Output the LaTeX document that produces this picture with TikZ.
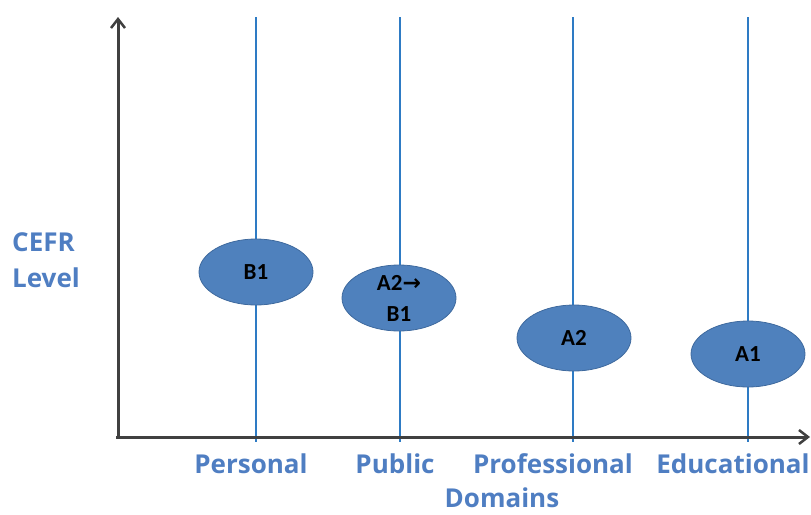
\documentclass[tikz,border=0pt]{standalone}
\usepackage{fontspec}
\setmainfont{Open Sans}
\newfontfamily\carl{Carlito}
\newfontfamily\djv{DejaVu Sans}
\usetikzlibrary{shapes.geometric,arrows.meta}
\definecolor{lblue}{HTML}{4F7EC2}
\definecolor{efill}{HTML}{4F81BD}
\definecolor{eborder}{HTML}{3F6A9E}
\definecolor{vline}{HTML}{2E7BC4}
\definecolor{axis}{HTML}{404040}
\tikzset{
  lvl/.style={ellipse,fill=efill,draw=eborder,line width=0.8pt,minimum width=114pt,minimum height=66pt,inner sep=0pt,font=\carl\fontsize{23}{31}\selectfont\bfseries,text=black,align=center},
  dom/.style={font=\fontsize{26}{36}\selectfont\bfseries,text=lblue,inner sep=0pt},
  vl/.style={draw=vline,line width=1.2pt},
  ax/.style={draw=axis,line width=3pt,-{Straight Barb[length=9pt,width=14pt,line width=2.5pt]}}
}
\begin{document}
\begin{tikzpicture}[x=1pt,y=-1pt]
\useasboundingbox (0,0) rectangle (811,514);
\coordinate (o) at (118,437);
\coordinate (ytop) at (118,17);
\coordinate (xend) at (810,437);
\foreach \n/\x in {p/256,q/400,r/573,s/748}{
  \coordinate (\n t) at (\x,17);
  \coordinate (\n b) at (\x,442);
  \draw[vl] (\n t) -- (\n b);
}
\draw[ax] (118,439) -- (ytop);
\draw[ax] (116,437) -- (xend);
\node[lvl] (b1) at (256,272) {B1};
\node[lvl] (a2b1) at (399,298) {A2{\djv\bfseries\fontsize{22}{31}\selectfont→}\\B1};
\node[lvl] (a2) at (574,338) {A2};
\node[lvl] (a1) at (748,354) {A1};
\node[dom] (personal) at (251,464) {Personal};
\node[dom] (public) at (395,464) {Public};
\node[dom] (prof) at (553,464) {Professional};
\node[dom] (edu) at (733,464) {Educational};
\node[dom] (domains) at (502,498) {Domains};
\node[dom,align=left,anchor=west] (cefr) at (12,260) {CEFR\\Level};
\end{tikzpicture}
\end{document}
